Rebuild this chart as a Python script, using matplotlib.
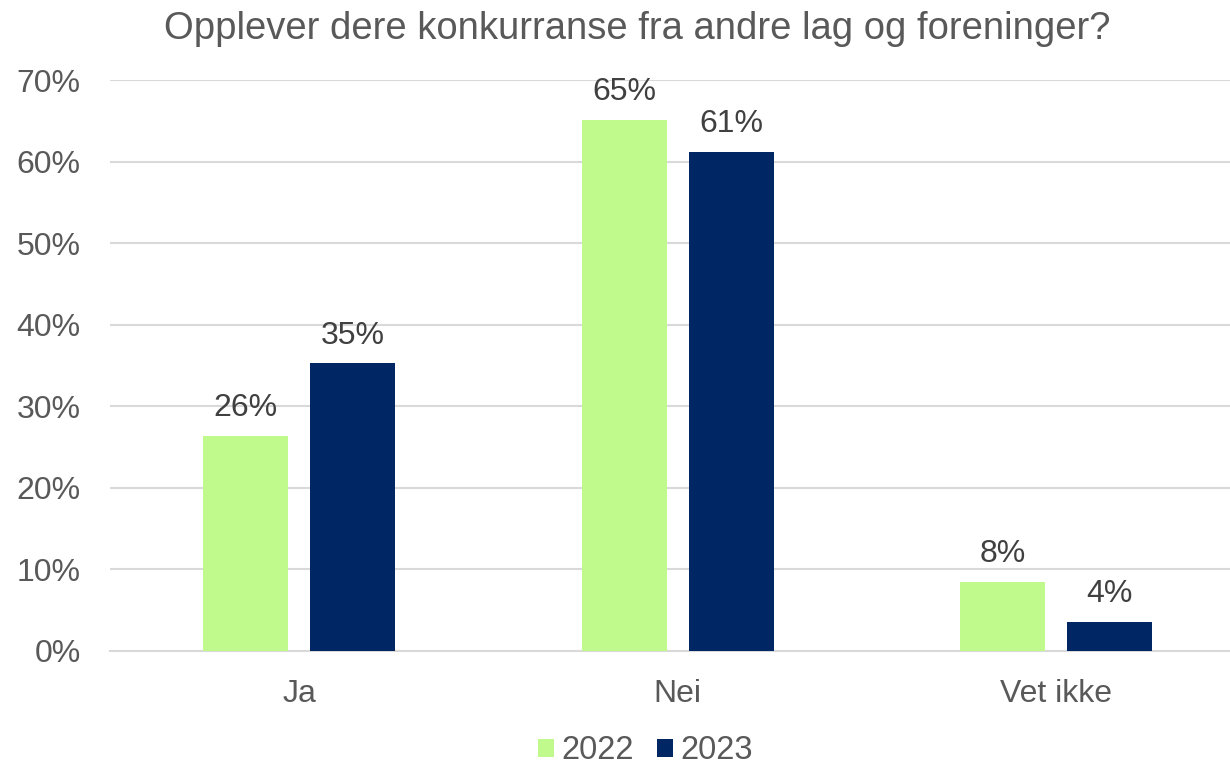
import numpy as np
import matplotlib
matplotlib.use("Agg")
import matplotlib.pyplot as plt

categories = ["Ja", "Nei", "Vet ikke"]
years = ["2022", "2023"]
values_2022 = [26.4, 65.1, 8.5]
values_2023 = [35.3, 61.2, 3.6]
labels_2022 = ["26%", "65%", "8%"]
labels_2023 = ["35%", "61%", "4%"]

plt.rcParams['font.family'] = ['Liberation Sans', 'DejaVu Sans']

fig = plt.figure(figsize=(12.3, 7.65), dpi=100)
ax = fig.add_axes([110 / 1230, 1 - 651 / 765, 1 - 110 / 1230, (651 - 80) / 765])

x = np.arange(len(categories))
w = 0.2246
off = 0.1413
b1 = ax.bar(x - off, values_2022, w, color="#c0fa8c", label=years[0], zorder=3)
b2 = ax.bar(x + off, values_2023, w, color="#002663", label=years[1], zorder=3)

for bars, labs in ((b1, labels_2022), (b2, labels_2023)):
    for rect, lab in zip(bars, labs):
        ax.annotate(lab, (rect.get_x() + rect.get_width() / 2, rect.get_height()),
                    xytext=(0, 9), textcoords="offset points", ha="center", va="bottom",
                    fontsize=23, color="#404040")

ax.set_ylim(0, 70)
ax.set_xlim(-0.5, (1230 - 110) / 378.5 - 0.5)
ax.set_yticks(np.arange(0, 71, 10))
ax.set_yticklabels([f"{v}%" for v in range(0, 71, 10)])
ax.set_xticks(x)
ax.set_xticklabels(categories)
ax.tick_params(axis="both", length=0, labelsize=23, labelcolor="#595959")
ax.tick_params(axis="y", pad=21)
ax.tick_params(axis="x", pad=20)
ax.grid(axis="y", color="#d9d9d9", linewidth=1.5, zorder=0)
for s in ["top", "right", "left"]:
    ax.spines[s].set_visible(False)
ax.spines["bottom"].set_color("#d9d9d9")
ax.spines["bottom"].set_linewidth(1.5)

fig.text(0.518, 0.986, "Opplever dere konkurranse fra andre lag og foreninger?",
         ha="center", va="top", fontsize=27.5, color="#595959")

fig.legend(loc="lower center", bbox_to_anchor=(0.525, -0.04), ncol=2, frameon=False,
           fontsize=23.5, labelcolor="#595959", handlelength=0.47, handleheight=0.47,
           handletextpad=0.25, columnspacing=0.7)

fig.savefig("out.png", dpi=100)
